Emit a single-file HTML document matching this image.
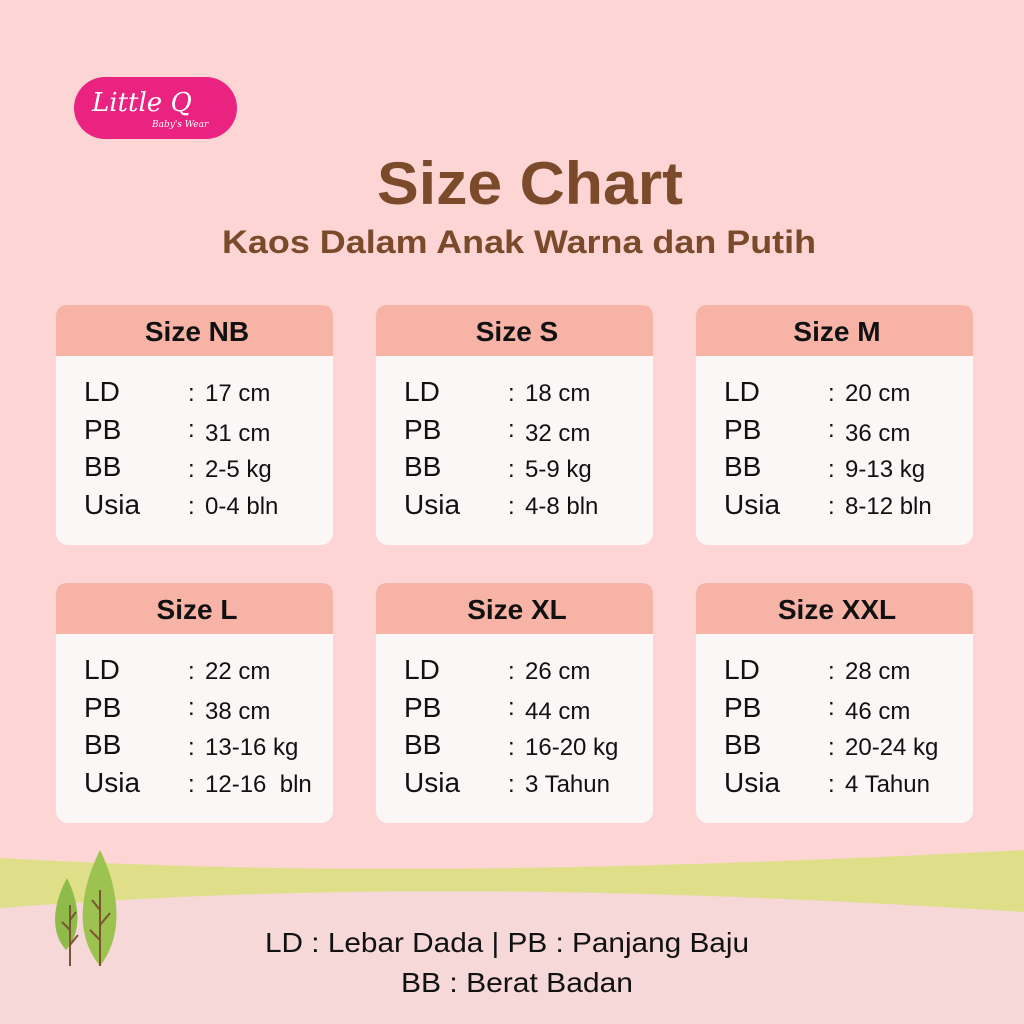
<!DOCTYPE html>
<html><head><meta charset="utf-8"><style>body{margin:0}svg{display:block}</style></head><body>
<svg width="1024" height="1024" viewBox="0 0 1024 1024" xmlns="http://www.w3.org/2000/svg" font-family="Liberation Sans, DejaVu Sans, sans-serif">
<defs>
<g id="card">
<rect x="0" y="0" width="277" height="240" rx="12" fill="#fbf7f7"/>
<path d="M0 51 V12 Q0 0 12 0 H265 Q277 0 277 12 V51Z" fill="#f6b3a6"/>
<g font-size="28" fill="#111"><text x="28" y="96">LD</text><text x="28" y="134">PB</text><text x="28" y="171">BB</text><text x="28" y="209">Usia</text></g>
<g font-size="24" fill="#111"><text x="132" y="96">:</text><text x="132" y="132">:</text><text x="132" y="172">:</text><text x="132" y="209">:</text></g>
</g>
</defs>
<rect width="1024" height="1024" fill="#fdd5d5"/>
<path d="M0 858 C300 875 600 872 1024 850 L1024 1024 L0 1024Z" fill="#dfdf8a"/>
<path d="M0 908 C300 885 600 885 1024 912 L1024 1024 L0 1024Z" fill="#f6d8d8"/>
<path d="M67 878 C55 900 48 930 66 950 C84 930 78 900 67 878Z" fill="#8fbb4a"/>
<path d="M100 850 C85 880 70 930 100 966 C128 930 115 880 100 850Z" fill="#9cc250"/>
<g stroke="#7a5530" stroke-width="2" fill="none"><path d="M70 905 V966 M70 930 L62 922 M70 945 L78 935 M70 920 L76 912"/><path d="M100 890 V966 M100 910 L92 900 M100 925 L110 913 M100 940 L90 930"/></g>
<rect x="74" y="77" width="163" height="62" rx="31" fill="#e9237f"/>
<text x="92" y="111" font-family="DejaVu Serif, serif" font-style="italic" font-size="26" fill="#fff">Little Q</text>
<text x="152" y="127" font-family="DejaVu Serif, serif" font-style="italic" font-size="9" fill="#fff">Baby's Wear</text>
<text x="377" y="204" textLength="306" lengthAdjust="spacingAndGlyphs" font-weight="bold" font-size="60" fill="#7b4a2a">Size Chart</text>
<text x="222" y="253" textLength="594" lengthAdjust="spacingAndGlyphs" font-weight="bold" font-size="32" fill="#7b4a2a">Kaos Dalam Anak Warna dan Putih</text>

<use href="#card" x="56" y="305"/><use href="#card" x="376" y="305"/><use href="#card" x="696" y="305"/>
<use href="#card" x="56" y="583"/><use href="#card" x="376" y="583"/><use href="#card" x="696" y="583"/>

<g font-weight="bold" font-size="28" fill="#111" text-anchor="middle">
<text x="197" y="341">Size NB</text><text x="517" y="341">Size S</text><text x="837" y="341">Size M</text>
<text x="197" y="619">Size L</text><text x="517" y="619">Size XL</text><text x="837" y="619">Size XXL</text>
</g>
<g font-size="24" fill="#111">
<text x="205" y="401">17 cm</text><text x="205" y="441">31 cm</text><text x="205" y="477">2-5 kg</text><text x="205" y="514">0-4 bln</text>
<text x="525" y="401">18 cm</text><text x="525" y="441">32 cm</text><text x="525" y="477">5-9 kg</text><text x="525" y="514">4-8 bln</text>
<text x="845" y="401">20 cm</text><text x="845" y="441">36 cm</text><text x="845" y="477">9-13 kg</text><text x="845" y="514">8-12 bln</text>
<text x="205" y="679">22 cm</text><text x="205" y="719">38 cm</text><text x="205" y="755">13-16 kg</text><text x="205" y="792" xml:space="preserve">12-16  bln</text>
<text x="525" y="679">26 cm</text><text x="525" y="719">44 cm</text><text x="525" y="755">16-20 kg</text><text x="525" y="792">3 Tahun</text>
<text x="845" y="679">28 cm</text><text x="845" y="719">46 cm</text><text x="845" y="755">20-24 kg</text><text x="845" y="792">4 Tahun</text>
</g>
<g font-size="28" fill="#111">
<text x="265" y="952" textLength="484" lengthAdjust="spacingAndGlyphs">LD : Lebar Dada | PB : Panjang Baju</text>
<text x="401" y="992" textLength="232" lengthAdjust="spacingAndGlyphs">BB : Berat Badan</text>
</g>
</svg>
</body></html>
